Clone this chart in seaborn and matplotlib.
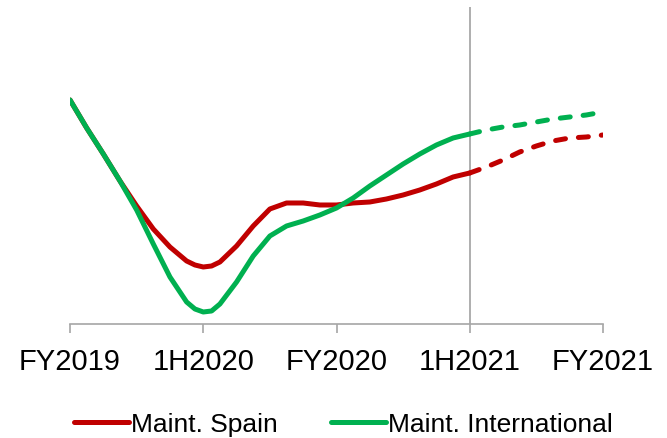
import pandas as pd
import matplotlib
matplotlib.use("Agg")
import matplotlib.pyplot as plt
import seaborn as sns

periods = ["FY2019", "1H2020", "FY2020", "1H2021", "FY2021"]
# readings every 1/8 of a period, plus two extra around the trough
x_pos = [0, 0.125, 0.25, 0.375, 0.5, 0.625, 0.75, 0.875, 0.9375, 1,
         1.0625, 1.125, 1.25, 1.375, 1.5, 1.625, 1.75, 1.875, 2,
         2.125, 2.25, 2.375, 2.5, 2.625, 2.75, 2.875, 3,
         3.125, 3.25, 3.375, 3.5, 3.625, 3.75, 3.875, 4]
spain = [100, 94.4, 89.2, 83.8, 78.8, 74.2, 70.6, 67.8, 67.0, 66.6,
         66.8, 67.6, 70.8, 74.8, 78.2, 79.4, 79.4, 79.0, 79.0,
         79.4, 79.6, 80.2, 81.0, 82.0, 83.2, 84.6, 85.4,
         86.6, 88.0, 89.6, 90.8, 91.8, 92.4, 92.6, 93.0]
international = [100, 94.4, 89.2, 83.8, 78.0, 71.2, 64.6, 59.6, 58.2, 57.6,
                 57.8, 59.2, 63.6, 68.8, 72.8, 74.8, 75.8, 77.0, 78.4,
                 80.4, 82.8, 85.0, 87.2, 89.2, 91.0, 92.4, 93.2,
                 94.0, 94.6, 95.0, 95.6, 96.2, 96.6, 97.0, 97.6]
split_at = 3  # forecast (dashed) after 1H2021

sns.set_style("white")
plt.rcParams["font.family"] = ["Liberation Sans", "DejaVu Sans"]
plt.rcParams["text.color"] = "black"
plt.rcParams["xtick.color"] = "black"

fig = plt.figure(figsize=(6.67, 4.39), dpi=100)
ax = fig.add_axes([0.105, 0.2597, 0.799, 0.7221])

series = {"Maint. Spain": (spain, "#C00000"),
          "Maint. International": (international, "#00B050")}

for name, (vals, color) in series.items():
    df = pd.DataFrame({"x": x_pos, "y": vals})
    actual = df[df["x"] <= split_at]
    forecast = df[df["x"] >= split_at]
    sns.lineplot(data=actual, x="x", y="y", ax=ax, color=color, lw=3.6,
                 solid_capstyle="round", solid_joinstyle="round", label=name)
    sns.lineplot(data=forecast, x="x", y="y", ax=ax, color=color, lw=3.6,
                 dash_capstyle="round", label="_nolegend_")
    ax.lines[-1].set_linestyle((0, (2.0, 2.6)))

ax.axvline(split_at, color="#999999", lw=1.1, zorder=0)

ax.set_xlim(0, 4)
ax.set_ylim(55.2, 118.6)
ax.set_xticks(range(len(periods)))
ax.set_xticklabels(periods, fontsize=21, color="black")
ax.set_yticks([])
ax.set_xlabel("")
ax.set_ylabel("")
for s in ["top", "right", "left"]:
    ax.spines[s].set_visible(False)
ax.spines["bottom"].set_color("#A6A6A6")
ax.spines["bottom"].set_linewidth(1.2)
ax.tick_params(axis="x", direction="out", length=6.5, width=1.2,
               color="#A6A6A6", labelcolor="black", pad=10, bottom=True)

ax.get_legend().remove()
handles, labels = ax.get_legend_handles_labels()
fig.legend(handles, labels, loc="center", bbox_to_anchor=(0.515, 0.032),
           ncol=2, frameon=False, fontsize=19, handlelength=2.08,
           handletextpad=0.1, columnspacing=2.0, borderaxespad=0,
           borderpad=0)

fig.savefig("out.png", dpi=100)
